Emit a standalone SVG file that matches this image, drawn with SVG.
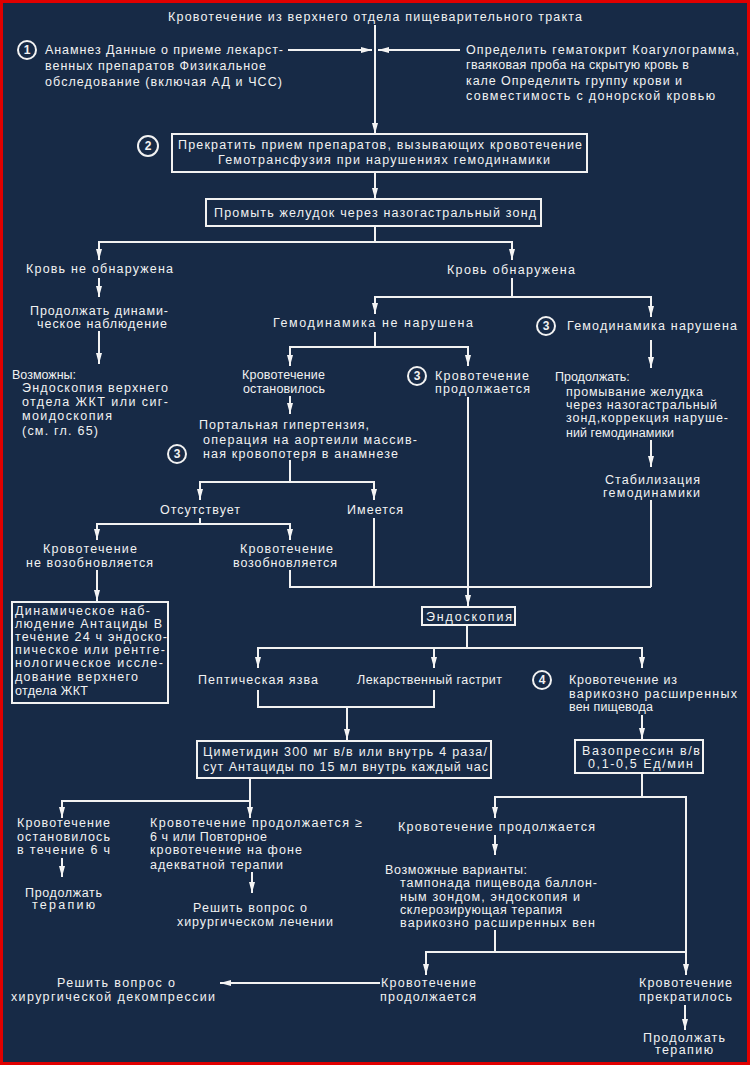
<svg xmlns="http://www.w3.org/2000/svg" width="750" height="1065" viewBox="0 0 750 1065">
<defs>
<marker id="ah" markerUnits="userSpaceOnUse" markerWidth="11" markerHeight="6" refX="11" refY="3" orient="auto">
<path d="M0,0 L11,3 L0,6 Z" fill="#f4f4f4"/>
</marker>
<style>
.t{font-family:"Liberation Sans",Arial,sans-serif;font-size:12.5px;fill:#f2f2f2;}
.n{font-family:"Liberation Sans",Arial,sans-serif;font-size:12px;font-weight:bold;fill:#f2f2f2;text-anchor:middle;}
.b{fill:none;stroke:#f2f2f2;stroke-width:2;}
.c{fill:none;stroke:#f2f2f2;stroke-width:2;}
.a{marker-end:url(#ah);}
</style>
</defs>
<rect x="0" y="0" width="750" height="1065" fill="#172a46"/>
<rect x="1.5" y="1.5" width="747" height="1062" fill="none" stroke="#e00000" stroke-width="3"/>

<g id="connectors">
<path class="c a" d="M375,25 V134"/>
<path class="c a" d="M288,50 H372"/>
<path class="c a" d="M460,50 H378"/>
<path class="c a" d="M375,172 V199"/>
<path class="c" d="M375,226 V242"/>
<path class="c a" d="M375,242 H99 V260"/>
<path class="c a" d="M375,242 H512 V260"/>
<path class="c a" d="M99,278 V297"/>
<path class="c a" d="M99,331 V364"/>
<path class="c" d="M512,278 V297"/>
<path class="c a" d="M512,297 H375 V314"/>
<path class="c a" d="M512,297 H651 V317"/>
<path class="c" d="M375,332 V347"/>
<path class="c a" d="M375,347 H290 V366"/>
<path class="c a" d="M375,347 H468 V366"/>
<path class="c a" d="M290,396 V414"/>
<path class="c a" d="M468,397 V606"/>
<path class="c" d="M290,460 V482"/>
<path class="c a" d="M290,482 H200 V500"/>
<path class="c a" d="M290,482 H374 V500"/>
<path class="c" d="M200,518 V524"/>
<path class="c a" d="M200,524 H97 V540"/>
<path class="c a" d="M200,524 H290 V540"/>
<path class="c a" d="M97,570 V601"/>
<path class="c" d="M290,570 V587 H651"/>
<path class="c" d="M374,518 V587"/>
<path class="c a" d="M651,340 V368"/>
<path class="c a" d="M651,440 V467"/>
<path class="c" d="M651,500 V587"/>
<path class="c" d="M467,625 V648"/>
<path class="c a" d="M467,648 H258 V668"/>
<path class="c a" d="M467,648 H642 V668"/>
<path class="c a" d="M434,648 V668"/>
<path class="c" d="M258,690 V707 H434 V690"/>
<path class="c a" d="M347,707 V740"/>
<path class="c a" d="M642,715 V739"/>
<path class="c a" d="M250,778 V818"/>
<path class="c a" d="M250,801 H62 V818"/>
<path class="c a" d="M62,858 V877"/>
<path class="c a" d="M252,872 V893"/>
<path class="c" d="M642,773 V797"/>
<path class="c a" d="M642,797 H495 V818"/>
<path class="c a" d="M642,797 H686 V975"/>
<path class="c a" d="M495,835 V855"/>
<path class="c" d="M495,930 V952"/>
<path class="c a" d="M495,952 H426 V975"/>
<path class="c" d="M495,952 H686"/>
<path class="c a" d="M380,983 H220"/>
<path class="c a" d="M685,1005 V1030"/>
</g>

<g id="title"><text class="t" x="168" y="21" textLength="414">Кровотечение из верхнего отдела пищеварительного тракта</text></g>

<g id="n1">
<circle class="b" cx="27" cy="50" r="9"/><text class="n" x="27" y="54">1</text>
<text class="t" x="45" y="54" textLength="238">Анамнез Данные о приеме лекарст-</text>
<text class="t" x="45" y="70" textLength="221">венных препаратов Физикальное</text>
<text class="t" x="45" y="86" textLength="237">обследование (включая АД и ЧСС)</text>
</g>
<g id="n1r">
<text class="t" x="466" y="54" textLength="273">Определить гематокрит Коагулограмма,</text>
<text class="t" x="466" y="69" textLength="223">гваяковая проба на скрытую кровь в</text>
<text class="t" x="466" y="85" textLength="216">кале Определить группу крови и</text>
<text class="t" x="466" y="100" textLength="249">совместимость с донорской кровью</text>
</g>
<g id="n2">
<circle class="b" cx="148" cy="146" r="10"/><text class="n" x="148" y="150">2</text>
<rect class="b" x="172" y="134" width="415" height="38"/>
<text class="t" x="178" y="149" textLength="404">Прекратить прием препаратов, вызывающих кровотечение</text>
<text class="t" x="218" y="164" textLength="332">Гемотрансфузия при нарушениях гемодинамики</text>
</g>
<g id="n3">
<rect class="b" x="206" y="199" width="335" height="27"/>
<text class="t" x="214" y="217" textLength="322">Промыть желудок через назогастральный зонд</text>
</g>
<g id="n4"><text class="t" x="26" y="273" textLength="147">Кровь не обнаружена</text></g>
<g id="n5">
<text class="t" x="30" y="315" textLength="138">Продолжать динами-</text>
<text class="t" x="37" y="328" textLength="130">ческое наблюдение</text>
</g>
<g id="n6">
<text class="t" x="12" y="379">Возможны:</text>
<text class="t" x="22" y="392" textLength="146">Эндоскопия верхнего</text>
<text class="t" x="22" y="406" textLength="146">отдела ЖКТ или сиг-</text>
<text class="t" x="22" y="420" textLength="90">моидоскопия</text>
<text class="t" x="22" y="435" textLength="76">(см. гл. 65)</text>
</g>
<g id="n7"><text class="t" x="447" y="274" textLength="128">Кровь обнаружена</text></g>
<g id="n8"><text class="t" x="273" y="327" textLength="200">Гемодинамика не нарушена</text></g>
<g id="n9">
<circle class="b" cx="546" cy="326" r="9"/><text class="n" x="546" y="330">3</text>
<text class="t" x="567" y="330" textLength="170">Гемодинамика нарушена</text>
</g>
<g id="n10">
<text class="t" x="242" y="379" textLength="83">Кровотечение</text>
<text class="t" x="243" y="393" textLength="82">остановилось</text>
</g>
<g id="n11">
<circle class="b" cx="417" cy="376" r="9"/><text class="n" x="417" y="380">3</text>
<text class="t" x="435" y="380" textLength="94">Кровотечение</text>
<text class="t" x="435" y="393" textLength="95">продолжается</text>
</g>
<g id="n12">
<text class="t" x="555" y="381">Продолжать:</text>
<text class="t" x="566" y="396" textLength="137">промывание желудка</text>
<text class="t" x="566" y="409" textLength="151">через назогастральный</text>
<text class="t" x="566" y="422" textLength="162">зонд,коррекция наруше-</text>
<text class="t" x="566" y="437" textLength="108">ний гемодинамики</text>
</g>
<g id="n13">
<text class="t" x="605" y="484" textLength="95">Стабилизация</text>
<text class="t" x="603" y="497" textLength="97">гемодинамики</text>
</g>
<g id="n14">
<circle class="b" cx="177" cy="454" r="9"/><text class="n" x="177" y="458">3</text>
<text class="t" x="199" y="429" textLength="170">Портальная гипертензия,</text>
<text class="t" x="203" y="444" textLength="214">операция на аортеили массив-</text>
<text class="t" x="203" y="458" textLength="195">ная кровопотеря в анамнезе</text>
</g>
<g id="n15"><text class="t" x="160" y="514" textLength="80">Отсутствует</text></g>
<g id="n16"><text class="t" x="347" y="514" textLength="56">Имеется</text></g>
<g id="n17">
<text class="t" x="43" y="553" textLength="94">Кровотечение</text>
<text class="t" x="26" y="567" textLength="127">не возобновляется</text>
</g>
<g id="n18">
<text class="t" x="240" y="553" textLength="93">Кровотечение</text>
<text class="t" x="233" y="567" textLength="104">возобновляется</text>
</g>
<g id="n19">
<rect class="b" x="12" y="602" width="156" height="101"/>
<text class="t" x="15" y="615" textLength="135">Динамическое наб-</text>
<text class="t" x="15" y="628" textLength="147">людение Антациды В</text>
<text class="t" x="15" y="641" textLength="152">течение 24 ч эндоско-</text>
<text class="t" x="15" y="654" textLength="150">пическое или рентге-</text>
<text class="t" x="15" y="667" textLength="148">нологическое иссле-</text>
<text class="t" x="15" y="681" textLength="123">дование верхнего</text>
<text class="t" x="15" y="695" textLength="73">отдела ЖКТ</text>
</g>
<g id="n20">
<rect class="b" x="422" y="607" width="93" height="18"/>
<text class="t" x="426" y="621" textLength="86">Эндоскопия</text>
</g>
<g id="n21"><text class="t" x="198" y="684" textLength="120">Пептическая язва</text></g>
<g id="n22"><text class="t" x="357" y="684" textLength="145">Лекарственный гастрит</text></g>
<g id="n23">
<circle class="b" cx="542" cy="680" r="9"/><text class="n" x="542" y="684">4</text>
<text class="t" x="569" y="684" textLength="108">Кровотечение из</text>
<text class="t" x="569" y="698" textLength="168">варикозно расширенных</text>
<text class="t" x="569" y="711" textLength="84">вен пищевода</text>
</g>
<g id="n24">
<rect class="b" x="197" y="741" width="294" height="37"/>
<text class="t" x="203" y="756" textLength="284">Циметидин 300 мг в/в или внутрь 4 раза/</text>
<text class="t" x="203" y="771" textLength="285">сут Антациды по 15 мл внутрь каждый час</text>
</g>
<g id="n25">
<rect class="b" x="575" y="740" width="128" height="33"/>
<text class="t" x="582" y="755" textLength="118">Вазопрессин в/в</text>
<text class="t" x="588" y="768" textLength="105">0,1-0,5 Ед/мин</text>
</g>
<g id="n26">
<text class="t" x="17" y="827" textLength="93">Кровотечение</text>
<text class="t" x="17" y="841" textLength="93">остановилось</text>
<text class="t" x="17" y="854" textLength="93">в течение 6 ч</text>
</g>
<g id="n27">
<text class="t" x="25" y="897" textLength="77">Продолжать</text>
<text class="t" x="32" y="909" textLength="63">терапию</text>
</g>
<g id="n28">
<text class="t" x="150" y="827" textLength="212">Кровотечение продолжается ≥</text>
<text class="t" x="150" y="841" textLength="117">6 ч или Повторное</text>
<text class="t" x="150" y="854" textLength="152">кровотечение на фоне</text>
<text class="t" x="150" y="869" textLength="133">адекватной терапии</text>
</g>
<g id="n29">
<text class="t" x="193" y="912" textLength="114">Решить вопрос о</text>
<text class="t" x="177" y="926" textLength="156">хирургическом лечении</text>
</g>
<g id="n30"><text class="t" x="398" y="831" textLength="197">Кровотечение продолжается</text></g>
<g id="n31">
<text class="t" x="385" y="874" textLength="142">Возможные варианты:</text>
<text class="t" x="400" y="887" textLength="197">тампонада пищевода баллон-</text>
<text class="t" x="400" y="901" textLength="180">ным зондом, эндоскопия и</text>
<text class="t" x="400" y="914" textLength="162">склерозирующая терапия</text>
<text class="t" x="400" y="927" textLength="195">варикозно расширенных вен</text>
</g>
<g id="n32">
<text class="t" x="381" y="987" textLength="95">Кровотечение</text>
<text class="t" x="380" y="1001" textLength="96">продолжается</text>
</g>
<g id="n33">
<text class="t" x="57" y="987" textLength="118">Решить вопрос о</text>
<text class="t" x="11" y="1001" textLength="204">хирургической декомпрессии</text>
</g>
<g id="n34">
<text class="t" x="639" y="987" textLength="93">Кровотечение</text>
<text class="t" x="639" y="1001" textLength="93">прекратилось</text>
</g>
<g id="n35">
<text class="t" x="643" y="1042" textLength="82">Продолжать</text>
<text class="t" x="655" y="1054" textLength="58">терапию</text>
</g>
</svg>
